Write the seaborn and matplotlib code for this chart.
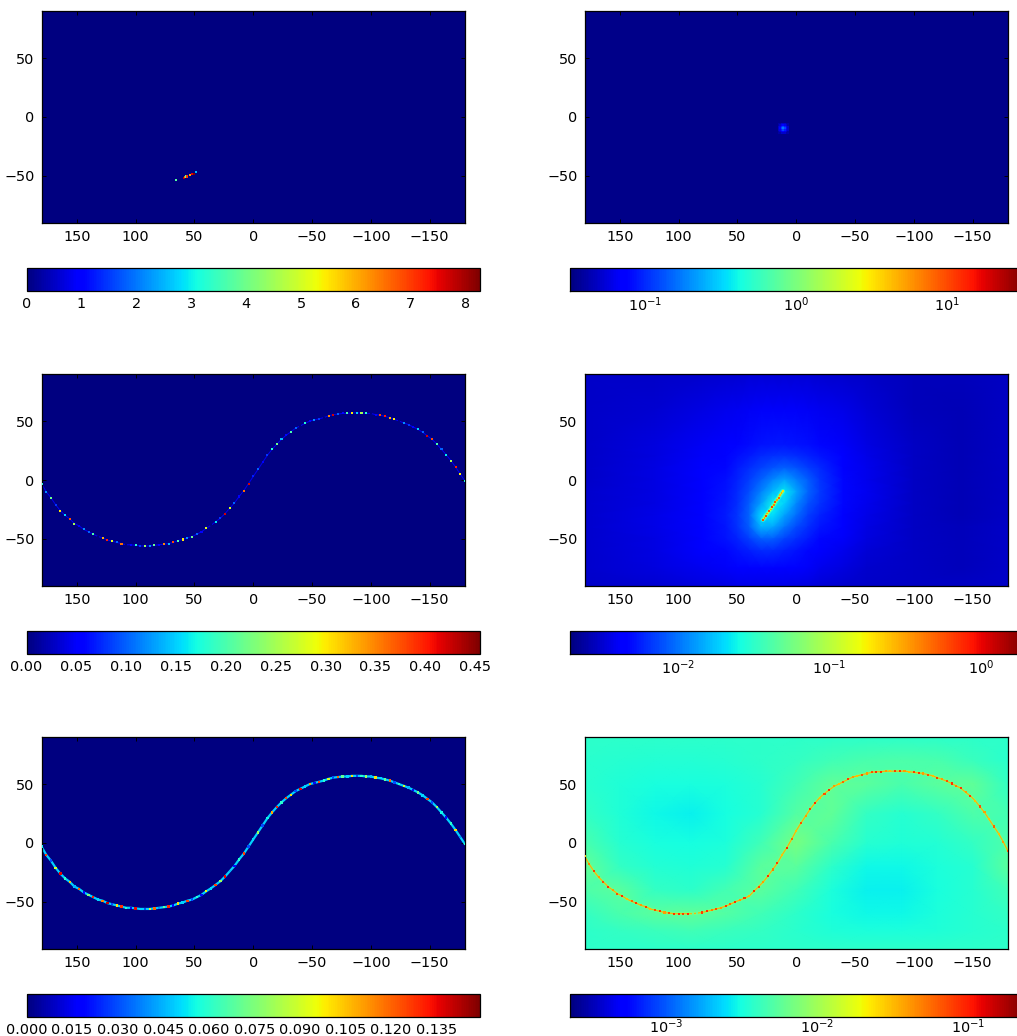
import matplotlib
matplotlib.use('Agg')
import matplotlib.pyplot as plt
from matplotlib.cm import ScalarMappable
from matplotlib.colors import LogNorm, Normalize
import seaborn as sns

# Track longitudes, every 4 degrees
track_lon = [180, 176, 172, 168, 164, 160, 156, 152, 148, 144,
             140, 136, 132, 128, 124, 120, 116, 112, 108, 104,
             100, 96, 92, 88, 84, 80, 76, 72, 68, 64,
             60, 56, 52, 48, 44, 40, 36, 32, 28, 24,
             20, 16, 12, 8, 4, 0, -4, -8, -12, -16,
             -20, -24, -28, -32, -36, -40, -44, -48, -52, -56,
             -60, -64, -68, -72, -76, -80, -84, -88, -92, -96,
             -100, -104, -108, -112, -116, -120, -124, -128, -132, -136,
             -140, -144, -148, -152, -156, -160, -164, -168, -172, -176,
             -180]

# Track seen in the left panels
left_lat = [-3, -10, -15, -21, -26, -30, -33, -37, -39, -42,
            -44, -46, -48, -49, -51, -52, -53, -54, -55, -55,
            -55.5, -56, -56, -56, -55.5, -55, -54.5, -54, -53, -51.5,
            -50.5, -49, -48, -46, -44, -41, -38.5, -35.5, -32.5, -28.5,
            -24, -19.5, -14, -9, -3, 3, 9, 15, 21, 26,
            30.5, 34.5, 38, 41, 44, 46, 48, 50, 51, 52,
            53, 54.5, 55.5, 56, 56.5, 56.5, 57, 57, 57, 56.5,
            56.5, 55.5, 55, 54, 53, 51.5, 50, 48.5, 47, 45,
            43, 40.5, 37.5, 34.5, 30.5, 26, 21.5, 16.5, 11, 5,
            -1]

# Track seen in the bottom right panel
right_lat = [-11, -18, -24, -29, -33, -37, -40, -43, -45, -47.5,
             -49.5, -51, -53, -54, -56, -57, -58, -59, -59.5, -60,
             -60, -60, -60, -60, -59.5, -59, -58, -57, -56, -55,
             -53.5, -52, -50, -48.5, -47, -45, -41, -37, -33, -28,
             -22.5, -17, -10, -4, 3, 10.5, 17, 23, 29, 34,
             38.5, 42, 45, 48, 50, 52, 54, 56, 57, 58,
             59, 60, 60.5, 60.5, 61, 61, 61, 61, 61, 60.5,
             60, 59.5, 59, 58, 57, 55.5, 54, 52.5, 50.5, 48.5,
             46.5, 43, 40, 36, 31, 26, 20, 14, 8, 1,
             -7]

mid_left_values = [.18, .12, .22, .08, .30, .15, .38, .25, .05, .12,
                   .10, .20, .0, .33, .40, .28, .10, .36, .0, .05,
                   .18, .08, .25, .12, .22, .05, .35, .14, .38, .20,
                   .30, .12, .22, .10, .05, .28, .0, .16, .08, .42,
                   .28, .10, .05, .36, .42, .07, .10, .05, .08, .18,
                   .22, .14, .06, .20, .10, .0, .18, .05, .12, .08,
                   .0, .35, .42, .10, .06, .20, .30, .15, .25, .18,
                   .0, .05, .38, .40, .33, .30, .0, .12, .08, .05,
                   .15, .10, .42, .38, .20, .10, .16, .25, .40, .30,
                   .18]

low_left_values = [.055, .125, .03, .09, .135, .06, .105, .045, .12, .02,
                   .075, .13, .05, .115, .14, .03, .10, .128, .06, .02,
                   .135, .05, .03, .09, .12, .04, .07, .13, .02, .10,
                   .05, .125, .03, .06, .02, .095, .05, .125, .08, .135,
                   .045, .02, .06, .125, .03, .05, .08, .03, .055, .11,
                   .13, .06, .125, .10, .03, .135, .05, .11, .02, .125,
                   .06, .09, .03, .12, .07, .05, .10, .03, .06, .08,
                   .045, .10, .05, .07, .12, .03, .06, .09, .045, .02,
                   .07, .05, .125, .03, .08, .055, .02, .06, .10, .04,
                   .06]

low_right_values = [.03, .05, .08, .04, .07, .09, .04, .07, .09, .03,
                    .06, .09, .04, .08, .03, .07, .09, .04, .07, .09,
                    .09, .08, .09, .006, .006, .08, .09, .05, .07, .04,
                    .08, .06, .09, .04, .08, .03, .09, .07, .04, .09,
                    .05, .08, .03, .09, .06, .03, .07, .04, .08, .09,
                    .03, .07, .09, .04, .03, .06, .08, .04, .03, .07,
                    .04, .07, .09, .09, .04, .03, .08, .09, .04, .03,
                    .08, .09, .04, .07, .03, .08, .04, .07, .09, .05,
                    .08, .04, .08, .03, .07, .04, .03, .06, .03, .04,
                    .07]

# Short tracks of the upper panels
top_lon = [65.7, 58.9, 58, 57, 56, 53.7, 52, 50.5, 49]
top_lat = [-53.5, -51.8, -51, -50.5, -50.5, -49, -48.5, -48, -47]
top_values = [3.8, 7.8, 6.5, 4, 7, 6, 7.5, 8.2, 2.5]

mid_right_lon = [28.3, 27, 25.8, 24.5, 23, 21.8, 20.5, 19, 17.8, 16.5, 15, 13.8, 12.5, 11.4]
mid_right_lat = [-33.7, -32, -30.2, -28.5, -26.5, -25, -23, -21, -19, -17, -15, -13, -11, -9.6]
mid_right_values = [.6, .35, .65, .3, .55, .3, .65, .4, .6, .3, .5, .25, .3, .2]

# Small spot of the top right panel, 7 x 7 cells
spot_lon = [15.2, 13.8, 12.4, 11, 9.6, 8.2, 6.8]
spot_lat = [-5.4, -6.8, -8.2, -9.6, -11, -12.4, -13.8]
spot_values = [[.04, .04, .05, .05, .05, .04, .04],
               [.04, .05, .06, .07, .06, .05, .04],
               [.05, .06, .09, .12, .09, .06, .05],
               [.05, .07, .12, .17, .12, .07, .05],
               [.05, .06, .09, .12, .09, .06, .05],
               [.04, .05, .06, .07, .06, .05, .04],
               [.04, .04, .05, .05, .05, .04, .04]]

# Background field of the middle right panel
mid_grid_lon = [180, 120, 80, 60, 50, 40, 30, 20, 10, 0, -10, -20, -40, -60, -100, -140, -180]
mid_grid_lat = [90, 60, 30, 20, 10, 0, -10, -20, -30, -40, -50, -60, -75, -90]
mid_field = [
    [.0030, .0030, .0031, .0032, .0032, .0033, .0033, .0033, .0033, .0033, .0033, .0032, .0031, .0030, .0028, .0028, .0029],
    [.0030, .0032, .0035, .0037, .0038, .0039, .0040, .0040, .0040, .0040, .0039, .0038, .0036, .0033, .0028, .0027, .0029],
    [.0030, .0034, .0039, .0043, .0046, .0049, .0052, .0053, .0053, .0052, .0050, .0047, .0041, .0035, .0029, .0027, .0029],
    [.0030, .0034, .0041, .0046, .0050, .0055, .0060, .0064, .0065, .0062, .0058, .0053, .0043, .0036, .0029, .0027, .0029],
    [.0030, .0035, .0042, .0048, .0054, .0062, .0072, .0082, .0088, .0082, .0070, .0060, .0045, .0037, .0029, .0027, .0029],
    [.0030, .0035, .0043, .0050, .0058, .0070, .0088, .0115, .0140, .0110, .0085, .0066, .0047, .0037, .0029, .0027, .0029],
    [.0031, .0035, .0044, .0052, .0061, .0077, .0110, .0160, .0220, .0140, .0090, .0068, .0048, .0038, .0029, .0027, .0029],
    [.0031, .0035, .0045, .0053, .0063, .0085, .0135, .0240, .0190, .0115, .0080, .0064, .0047, .0037, .0029, .0027, .0029],
    [.0031, .0036, .0045, .0054, .0065, .0090, .0200, .0210, .0135, .0095, .0070, .0058, .0045, .0036, .0029, .0027, .0029],
    [.0031, .0036, .0045, .0053, .0064, .0085, .0150, .0140, .0100, .0075, .0062, .0053, .0043, .0035, .0029, .0028, .0030],
    [.0031, .0035, .0044, .0051, .0058, .0070, .0085, .0085, .0072, .0062, .0054, .0048, .0040, .0034, .0029, .0028, .0030],
    [.0031, .0035, .0042, .0047, .0051, .0056, .0060, .0060, .0056, .0052, .0047, .0043, .0037, .0033, .0029, .0028, .0030],
    [.0031, .0034, .0038, .0041, .0043, .0045, .0046, .0046, .0045, .0043, .0040, .0037, .0034, .0031, .0029, .0028, .0030],
    [.0030, .0032, .0034, .0035, .0036, .0036, .0036, .0036, .0036, .0035, .0034, .0033, .0031, .0030, .0029, .0029, .0030],
]

# Background field of the bottom right panel
low_grid_lon = [180, 150, 120, 90, 60, 30, 0, -30, -60, -90, -120, -150, -180]
low_grid_lat = [90, 70, 50, 25, 0, -20, -40, -60, -75, -90]
low_field = [
    [.0038, .0038, .0038, .0038, .0038, .0038, .0038, .0038, .0038, .0038, .0038, .0038, .0038],
    [.0037, .0036, .0035, .0035, .0036, .0038, .0040, .0044, .0048, .0050, .0048, .0042, .0037],
    [.0037, .0034, .0032, .0032, .0033, .0036, .0044, .0058, .0056, .0048, .0056, .0058, .0040],
    [.0040, .0034, .0030, .0028, .0031, .0036, .0052, .0058, .0040, .0036, .0040, .0050, .0046],
    [.0048, .0036, .0032, .0031, .0033, .0044, .0070, .0048, .0036, .0034, .0035, .0040, .0050],
    [.0060, .0040, .0035, .0034, .0036, .0055, .0056, .0038, .0030, .0030, .0033, .0036, .0056],
    [.0050, .0056, .0040, .0038, .0046, .0055, .0044, .0033, .0028, .0028, .0032, .0036, .0045],
    [.0040, .0048, .0056, .0058, .0052, .0044, .0038, .0032, .0030, .0030, .0033, .0036, .0040],
    [.0038, .0040, .0042, .0045, .0042, .0040, .0037, .0034, .0033, .0033, .0034, .0036, .0038],
    [.0038, .0038, .0038, .0038, .0038, .0038, .0038, .0038, .0038, .0038, .0038, .0038, .0038],
]

lon_ticks = [150, 100, 50, 0, -50, -100, -150]
lat_ticks = [50, 0, -50]

top_left_ticks = [0, 1, 2, 3, 4, 5, 6, 7, 8]
mid_left_ticks = [0.00, 0.05, 0.10, 0.15, 0.20, 0.25, 0.30, 0.35, 0.40, 0.45]
low_left_ticks = [0.000, 0.015, 0.030, 0.045, 0.060, 0.075, 0.090, 0.105, 0.120, 0.135]
top_right_ticks = [1e-1, 1e0, 1e1]
mid_right_ticks = [1e-2, 1e-1, 1e0]
low_right_ticks = [1e-3, 1e-2, 1e-1]

sns.set_style('ticks', {'axes.edgecolor': 'black', 'xtick.color': 'black', 'ytick.color': 'black',
                        'xtick.direction': 'in', 'ytick.direction': 'in'})
plt.rcParams['font.family'] = ['DejaVu Sans']
plt.rcParams['font.size'] = 10.4
plt.rcParams['mathtext.default'] = 'regular'

W, H = 1017, 1036
fig = plt.figure(figsize=(W / 100, H / 100), dpi=100)
jet = plt.get_cmap('jet')


def make_map(x, y):
    ax = fig.add_axes([x / W, 1 - (y + 212) / H, 423.5 / W, 212 / H])
    ax.set_facecolor(jet(0.0))
    return ax


def finish_map(ax):
    ax.set_xlim(180, -180)
    ax.set_ylim(-90, 90)
    ax.set_xticks(lon_ticks)
    ax.set_yticks(lat_ticks)
    ax.tick_params(top=True, right=True, length=3, width=0.7, labelsize=10.4, pad=5)
    for s in ax.spines.values():
        s.set_linewidth(0.9)


def add_bar(x, y, norm, ticks, pad=4):
    cax = fig.add_axes([x / W, 1 - (y + 23) / H, 453.5 / W, 23 / H])
    cb = fig.colorbar(ScalarMappable(norm=norm, cmap=jet), cax=cax, orientation='horizontal')
    cb.set_ticks(ticks)
    cb.minorticks_off()
    cax.tick_params(axis='x', top=True, bottom=True, direction='in', length=3, width=0.7,
                    labelsize=10.4, pad=pad)
    cb.outline.set_linewidth(0.9)
    return cb


def speckle(ax, lon, lat, values, norm, size=2.2):
    # seaborn refuses the name 'jet', the colormap object is fine
    sns.scatterplot(x=lon, y=lat, hue=values, hue_norm=norm, palette=jet, marker='s', s=size,
                    linewidth=0, edgecolor='none', legend=False, zorder=3, ax=ax)


# Top left
norm = Normalize(0, 8.26)
ax = make_map(41.5, 11)
speckle(ax, top_lon, top_lat, top_values, norm)
finish_map(ax)
add_bar(26.5, 268, norm, top_left_ticks)

# Top right
norm = LogNorm(10 ** -1.5, 10 ** 1.507)
ax = make_map(584.5, 11)
ax.set_facecolor(jet(0.01))
ax.pcolormesh(spot_lon, spot_lat, spot_values, norm=norm, cmap=jet, shading='nearest')
finish_map(ax)
add_bar(570, 268, norm, top_right_ticks, pad=3)

# Middle left
norm = Normalize(0, 0.4549)
ax = make_map(41.5, 374)
sns.lineplot(x=track_lon, y=left_lat, color=jet(0.1), linewidth=0.7, estimator=None, sort=False, ax=ax)
speckle(ax, track_lon, left_lat, mid_left_values, norm)
finish_map(ax)
add_bar(26.5, 631, norm, mid_left_ticks)

# Middle right
norm = LogNorm(10 ** -2.715, 10 ** 0.283)
ax = make_map(584.5, 374)
ax.pcolormesh(mid_grid_lon, mid_grid_lat, mid_field, norm=norm, cmap=jet, shading='gouraud')
sns.lineplot(x=mid_right_lon, y=mid_right_lat, color='#30ffd0', linewidth=3.4, alpha=0.8, estimator=None,
             sort=False, ax=ax)
sns.lineplot(x=mid_right_lon, y=mid_right_lat, color='#c0ff30', linewidth=1.5, estimator=None,
             sort=False, ax=ax)
speckle(ax, mid_right_lon, mid_right_lat, mid_right_values, norm, size=1.8)
finish_map(ax)
add_bar(570, 631, norm, mid_right_ticks, pad=3)

# Bottom left
norm = Normalize(0, 0.1493)
ax = make_map(41.5, 737)
sns.lineplot(x=track_lon, y=left_lat, color=jet(0.33), linewidth=1.6, estimator=None, sort=False, ax=ax)
speckle(ax, track_lon, left_lat, low_left_values, norm, size=3)
finish_map(ax)
add_bar(26.5, 994, norm, low_left_ticks)

# Bottom right
norm = LogNorm(10 ** -3.636, 10 ** -0.632)
ax = make_map(584.5, 737)
ax.pcolormesh(low_grid_lon, low_grid_lat, low_field, norm=norm, cmap=jet, shading='gouraud')
sns.lineplot(x=track_lon, y=right_lat, color='#b0ff50', linewidth=2.0, alpha=0.4, estimator=None,
             sort=False, ax=ax)
sns.lineplot(x=track_lon, y=right_lat, color='#ffb000', linewidth=0.8, estimator=None, sort=False, ax=ax)
speckle(ax, track_lon, right_lat, low_right_values, norm)
finish_map(ax)
add_bar(570, 994, norm, low_right_ticks, pad=0)

fig.savefig('out.png', dpi=100)
